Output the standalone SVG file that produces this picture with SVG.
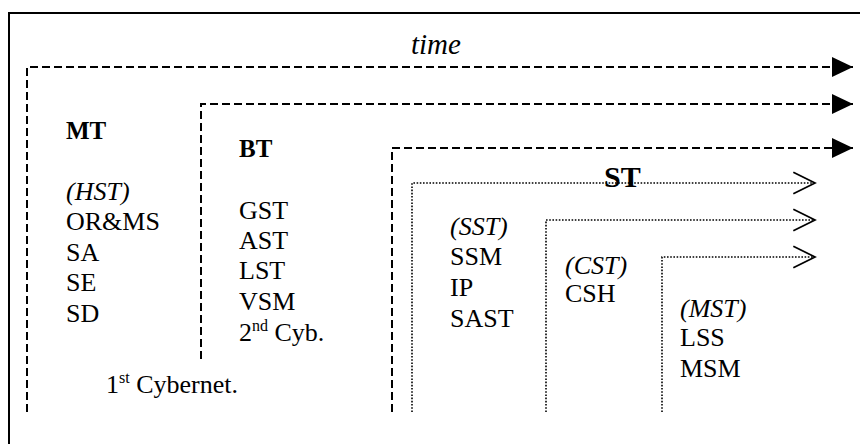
<svg xmlns="http://www.w3.org/2000/svg" width="860" height="444" viewBox="0 0 860 444">
<defs>
<marker id="fill" markerUnits="userSpaceOnUse" markerWidth="24" markerHeight="24" refX="21" refY="10" orient="auto" viewBox="0 0 24 20">
<path d="M0,0 L21,10 L0,20 Z" fill="#000"/>
</marker>
<marker id="open" markerUnits="userSpaceOnUse" markerWidth="26" markerHeight="26" refX="21" refY="11" orient="auto" viewBox="0 0 24 22">
<path d="M1,1 L21,11 L1,21" fill="none" stroke="#000" stroke-width="1.6"/>
</marker>
</defs>
<rect x="9" y="13" width="860" height="440" fill="#fff" stroke="#000" stroke-width="2"/>
<g id="connectors" fill="none" stroke="#000">
<path d="M27,412 V67 H853" stroke-width="2" stroke-dasharray="8 4" marker-end="url(#fill)"/>
<path d="M201,359 V104 H853" stroke-width="2" stroke-dasharray="8 4" marker-end="url(#fill)"/>
<path d="M392,412 V148 H853" stroke-width="2" stroke-dasharray="8 4" marker-end="url(#fill)"/>
<path d="M412,412 V183 H815" stroke-width="1.6" stroke-dasharray="1.6 1.6" marker-end="url(#open)"/>
<path d="M546,412 V220 H815" stroke-width="1.6" stroke-dasharray="1.6 1.6" marker-end="url(#open)"/>
<path d="M662,412 V257 H815" stroke-width="1.6" stroke-dasharray="1.6 1.6" marker-end="url(#open)"/>
</g>
<g id="time"><text x="411" y="54" font-family="Liberation Serif" font-style="italic" font-size="29">time</text></g>
<g id="MT">
<text x="66" y="139" font-family="Liberation Serif" font-weight="bold" font-size="25">MT</text>
<text x="66" y="200" font-family="Liberation Serif" font-style="italic" font-size="26">(HST)</text>
<text x="66" y="230" font-family="Liberation Serif" font-size="26">OR&amp;MS</text>
<text x="66" y="261" font-family="Liberation Serif" font-size="26">SA</text>
<text x="66" y="291" font-family="Liberation Serif" font-size="26">SE</text>
<text x="66" y="322" font-family="Liberation Serif" font-size="26">SD</text>
<text x="106" y="393" font-family="Liberation Serif" font-size="26">1<tspan font-size="16" dy="-10">st</tspan><tspan dy="10"> Cybernet.</tspan></text>
</g>
<g id="BT">
<text x="239" y="157" font-family="Liberation Serif" font-weight="bold" font-size="25">BT</text>
<text x="239" y="219" font-family="Liberation Serif" font-size="26">GST</text>
<text x="239" y="249" font-family="Liberation Serif" font-size="26">AST</text>
<text x="239" y="279" font-family="Liberation Serif" font-size="26">LST</text>
<text x="239" y="310" font-family="Liberation Serif" font-size="26">VSM</text>
<text x="239" y="341" font-family="Liberation Serif" font-size="26">2<tspan font-size="16" dy="-10">nd</tspan><tspan dy="10"> Cyb.</tspan></text>
</g>
<g id="ST">
<text x="604" y="187" font-family="Liberation Serif" font-weight="bold" font-size="30">ST</text>
</g>
<g id="SST">
<text x="450" y="235" font-family="Liberation Serif" font-style="italic" font-size="26">(SST)</text>
<text x="450" y="265" font-family="Liberation Serif" font-size="26">SSM</text>
<text x="450" y="296" font-family="Liberation Serif" font-size="26">IP</text>
<text x="450" y="327" font-family="Liberation Serif" font-size="26">SAST</text>
</g>
<g id="CST">
<text x="565" y="274" font-family="Liberation Serif" font-style="italic" font-size="26">(CST)</text>
<text x="565" y="302" font-family="Liberation Serif" font-size="26">CSH</text>
</g>
<g id="MST">
<text x="680" y="317" font-family="Liberation Serif" font-style="italic" font-size="26">(MST)</text>
<text x="680" y="346" font-family="Liberation Serif" font-size="26">LSS</text>
<text x="680" y="377" font-family="Liberation Serif" font-size="26">MSM</text>
</g>
</svg>
